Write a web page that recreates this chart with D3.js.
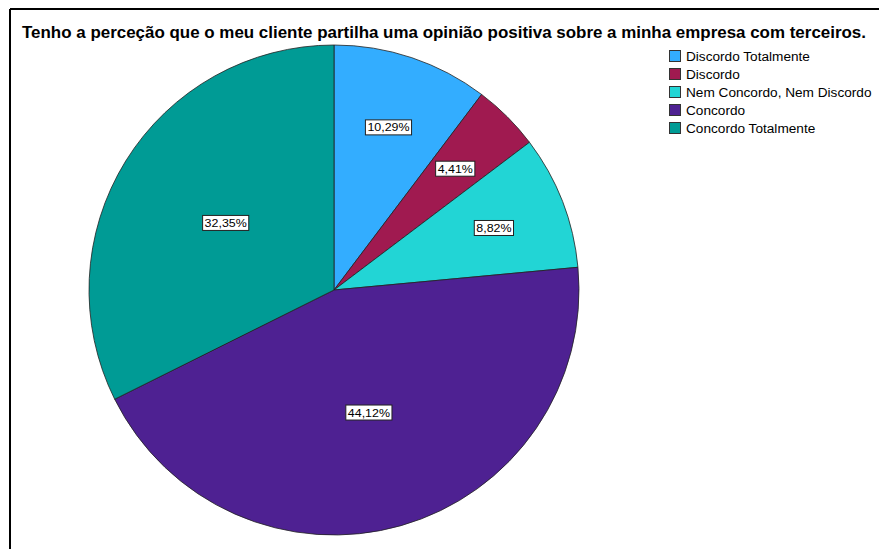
<!DOCTYPE html>
<html>
<head>
<meta charset="utf-8">
<script src="https://cdn.jsdelivr.net/npm/d3@7"></script>
<style>
  html, body { margin: 0; padding: 0; background: #fff; }
  svg { display: block; font-family: "Liberation Sans", Arial, sans-serif; }
</style>
</head>
<body>
<svg id="chart" width="879" height="549"></svg>
<script>
// Survey answers and their share of respondents (%)
const categories = [
  "Discordo Totalmente",
  "Discordo",
  "Nem Concordo, Nem Discordo",
  "Concordo",
  "Concordo Totalmente"
];
const percentages = [10.29, 4.41, 8.82, 44.12, 32.35];
const colors = ["#33adff", "#a01a50", "#22d5d5", "#4e2192", "#009b95"];
const title = "Tenho a perceção que o meu cliente partilha uma opinião positiva sobre a minha empresa com terceiros.";

const svg = d3.select("#chart");
const W = 879, H = 549;

// Frame lines (top and left edges of the chart panel)
svg.append("line").attr("x1", 10).attr("y1", 9).attr("x2", W).attr("y2", 9)
  .attr("stroke", "#000").attr("stroke-width", 2);
svg.append("line").attr("x1", 10).attr("y1", 9).attr("x2", 10).attr("y2", H)
  .attr("stroke", "#000").attr("stroke-width", 2);

// Title, fitted to span the panel width
svg.append("text")
  .attr("x", 444).attr("y", 38)
  .attr("text-anchor", "middle")
  .attr("font-weight", "bold")
  .attr("font-size", 16.5)
  .attr("fill", "#000")
  .attr("textLength", 844)
  .attr("lengthAdjust", "spacingAndGlyphs")
  .text(title);

// Pie
const cx = 334, cy = 290, R = 245;
const data = categories.map((c, i) => ({ cat: c, value: percentages[i], color: colors[i] }));
const pie = d3.pie().value(d => d.value).sort(null);
const arcs = pie(data);
const arc = d3.arc().innerRadius(0).outerRadius(R);

const g = svg.append("g").attr("transform", `translate(${cx},${cy})`);
g.selectAll("path.slice")
  .data(arcs)
  .join("path")
  .attr("class", "slice")
  .attr("d", arc)
  .attr("fill", d => d.data.color)
  .attr("stroke", "#222")
  .attr("stroke-width", 0.8);

// Value labels: boxed text placed along each slice's middle angle
const labelFmt = v => d3.format(".2f")(v).replace(".", ",") + "%";
const labels = g.selectAll("g.lbl")
  .data(arcs)
  .join("g")
  .attr("class", "lbl")
  .attr("transform", d => {
    const share = (d.endAngle - d.startAngle) / (2 * Math.PI);
    const rl = share < 0.15 ? R * 0.7 : R * 0.52;
    const a = (d.startAngle + d.endAngle) / 2;
    return `translate(${rl * Math.sin(a)},${-rl * Math.cos(a)})`;
  });
labels.each(function(d) {
  const sel = d3.select(this);
  const txt = sel.append("text")
    .attr("text-anchor", "middle")
    .attr("dy", "0.35em")
    .attr("font-size", 11.5)
    .attr("fill", "#000")
    .text(labelFmt(d.data.value));
  const w = txt.node().getComputedTextLength() * 1.08;
  txt.attr("textLength", w).attr("lengthAdjust", "spacingAndGlyphs");
  sel.insert("rect", "text")
    .attr("x", -w / 2 - 2).attr("y", -7.5)
    .attr("width", w + 4).attr("height", 15)
    .attr("fill", "#fff")
    .attr("stroke", "#222")
    .attr("stroke-width", 1);
});

// Legend
const legend = svg.append("g").attr("transform", "translate(669,50)");
const rows = legend.selectAll("g.row")
  .data(data)
  .join("g")
  .attr("class", "row")
  .attr("transform", (d, i) => `translate(0,${i * 18})`);
rows.append("rect")
  .attr("x", 0.5).attr("y", 0.5)
  .attr("width", 11).attr("height", 11)
  .attr("fill", d => d.color)
  .attr("stroke", "#333")
  .attr("stroke-width", 1);
rows.append("text")
  .attr("x", 17).attr("y", 6)
  .attr("dy", "0.36em")
  .attr("font-size", 12.5)
  .attr("fill", "#000")
  .text(d => d.cat)
  .each(function() {
    const w = this.getComputedTextLength() * 1.09;
    d3.select(this).attr("textLength", w).attr("lengthAdjust", "spacingAndGlyphs");
  });
</script>
</body>
</html>
